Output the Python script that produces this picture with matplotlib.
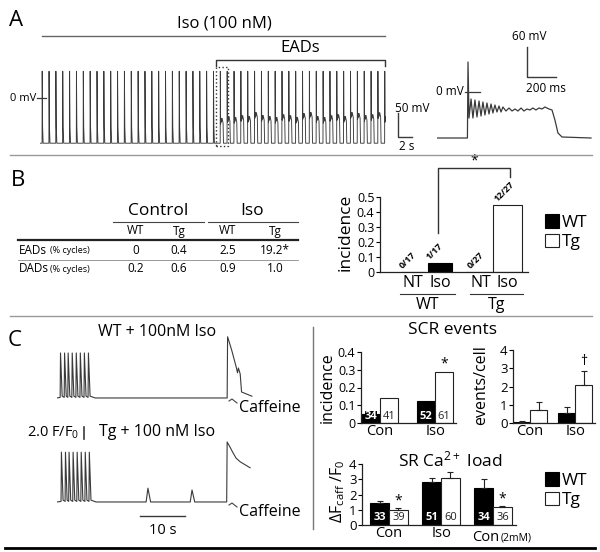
import matplotlib.pyplot as plt
import numpy as np
from matplotlib.patches import Rectangle

plt.rcParams['font.family'] = ['Open Sans', 'DejaVu Sans']
plt.rcParams['mathtext.fontset'] = 'custom'
plt.rcParams['mathtext.rm'] = 'Open Sans'
plt.rcParams['mathtext.it'] = 'Open Sans'

W, H = 600, 552

# ---------------- data ----------------
# A: paced action potentials (s, mV)
ap_times = [0, 1, 2, 3, 4, 5, 6, 7, 8, 9, 10, 11, 12, 13, 14, 15, 16, 17, 18, 19,
            20, 21, 22, 23, 24, 25, 26, 27, 28, 29, 30, 31, 32, 33, 34, 35, 36, 37,
            38, 39, 40, 41, 42, 43, 44, 45, 46, 47, 48, 49, 50]
ap_rest = -94
ap_peak = 56
ead_start = 26
ead_plateau = [-42, -38, -40, -36, -38, -30, -36, -38, -40, -34, -36, -40, -32,
               -30, -38, -40, -36, -34, -38, -30, -32, -36, -34, -30, -38]

# A inset: single AP with EADs (ms, mV)
inset_t = [0, 210, 214, 221, 235, 248, 262, 276, 290, 304, 317, 331, 345, 359, 373,
           386, 400, 414, 428, 442, 455, 476, 497, 518, 538, 559, 580, 600, 621, 642,
           662, 683, 704, 725, 745, 773, 794, 814, 835, 863, 1063]
inset_v = [-92, -92, 60, -52, -14, -52, -16, -50, -18, -48, -20, -46, -22, -44, -24,
           -42, -26, -40, -28, -40, -30, -38, -32, -38, -34, -38, -32, -38, -34, -36,
           -32, -36, -32, -34, -30, -34, -36, -56, -82, -90, -92]

# B: table
table_groups = ['Control', 'Iso']
table_cols = ['WT', 'Tg', 'WT', 'Tg']
table_rows = ['EADs', 'DADs']
table_vals = [['0', '0.4', '2.5', '19.2*'],
              ['0.2', '0.6', '0.9', '1.0']]

# B: EAD incidence
b_labels = ['NT', 'Iso', 'NT', 'Iso']
b_groups = ['WT', 'Tg']
b_counts = ['0/17', '1/17', '0/27', '12/27']
b_incidence = [0 / 17, 1 / 17, 0 / 27, 12 / 27]

# C: Ca transients (s, F/F0)
wt_pace = [0.7, 1.6, 2.4, 3.3, 4.2, 5.1, 6.0, 6.9]
wt_pace_peak = 8.5
wt_caff_t = [37.8, 37.9, 38.8, 39.8, 40.1, 40.3, 40.7, 41.0, 43.3]
wt_caff_f = [1.0, 11.2, 9.0, 6.2, 5.2, 6.0, 5.0, 2.0, 1.3]
tg_pace = [0.9, 1.8, 2.6, 3.5, 4.4, 5.3, 6.2, 7.1]
tg_pace_peak = 9.3
tg_scr_t = [20.2, 30.0]
tg_scr_peak = [3.3, 3.0]
tg_caff_t = [37.7, 37.8, 38.4, 39.1, 39.8, 40.7, 41.8, 42.9]
tg_caff_f = [1.0, 11.0, 10.2, 9.2, 8.3, 7.7, 7.2, 6.7]

# C: SCR events
scr_groups = ['Con', 'Iso']
scr_inc_wt = [0.05, 0.125]
scr_inc_tg = [0.14, 0.29]
scr_n_wt = [34, 52]
scr_n_tg = [41, 61]
scr_ev_wt = [0.05, 0.55]
scr_ev_wt_err = [0.05, 0.35]
scr_ev_tg = [0.7, 2.1]
scr_ev_tg_err = [0.45, 0.75]

# C: SR Ca load
load_groups = ['Con', 'Iso', 'Con']
load_wt = [1.45, 2.8, 2.4]
load_wt_err = [0.15, 0.25, 0.6]
load_tg = [1.0, 3.1, 1.15]
load_tg_err = [0.1, 0.35, 0.1]
load_n_wt = [33, 51, 34]
load_n_tg = [39, 60, 36]

TRACE = '#3a3a3a'

fig = plt.figure(figsize=(W / 100, H / 100), dpi=100)


def px_axes(x0, y0, x1, y1):
    return fig.add_axes([x0 / W, 1 - y1 / H, (x1 - x0) / W, (y1 - y0) / H])


def style_bar_axes(ax, size):
    for s in ['top', 'right']:
        ax.spines[s].set_visible(False)
    for s in ['left', 'bottom']:
        ax.spines[s].set_linewidth(0.9)
        ax.spines[s].set_color('#222222')
    ax.tick_params(axis='y', direction='out', length=3, width=0.8, labelsize=size, pad=1)
    ax.tick_params(axis='x', length=0, labelsize=size + 1, pad=1)
    ax.patch.set_alpha(0)


# overlay in pixel coordinates for labels and dividers
ov = fig.add_axes([0, 0, 1, 1])
ov.set_xlim(0, W)
ov.set_ylim(H, 0)
ov.axis('off')
ov.set_zorder(5)

ov.plot([10, 592], [155, 155], color='#999999', lw=1)
ov.plot([10, 592], [316, 316], color='#999999', lw=1)
ov.plot([5, 595], [548, 548], color='black', lw=2)
ov.plot([313, 313], [327, 529], color='#777777', lw=1)

for letter, x, y in [('A', 16, 21), ('B', 18, 180), ('C', 15, 340)]:
    ov.text(x, y, letter, fontsize=16, ha='center', va='center')

# ---------------- A ----------------
ax_a = px_axes(40, 65, 386, 148)
tx, vy = [-0.3], [ap_rest]
for i, t in enumerate(ap_times):
    if i < ead_start:
        tx += [t, t + 0.02, t + 0.08, t + 0.16]
        vy += [ap_rest, ap_peak, -60, ap_rest]
    else:
        p = ead_plateau[i - ead_start]
        tx += [t, t + 0.02, t + 0.06, t + 0.12, t + 0.2, t + 0.28, t + 0.36, t + 0.42, t + 0.48]
        vy += [ap_rest, ap_peak, p - 12, p, p - 8, p, p - 6, p - 10, ap_rest]
tx.append(50.4)
vy.append(ap_rest)
ax_a.plot(tx, vy, color=TRACE, lw=0.65)
ax_a.set_xlim(-0.3, 50.2)
ax_a.set_ylim(-104, 69)
ax_a.axis('off')
ax_a.plot([-0.7, 0.6], [0, 0], color=TRACE, lw=0.9, clip_on=False)
ax_a.text(-0.9, 0, '0 mV', fontsize=8, ha='right', va='center')
ax_a.add_patch(Rectangle((25.4, -100), 1.8, 165, fill=False, ls=':', lw=1,
                         ec='#333333', clip_on=False))
ax_a.plot([52, 52, 54], [-31, -81, -81], color=TRACE, lw=1, clip_on=False)
ax_a.text(54.0, -22, '50 mV', fontsize=8.5, ha='center', va='center')
ax_a.text(53.2, -101, '2 s', fontsize=8.5, ha='center', va='center')

ov.plot([42, 385], [36, 36], color='#666666', lw=1)
ov.text(224, 24, 'Iso (100 nM)', fontsize=12, ha='center', va='center')
ov.plot([216, 216, 385, 385], [66, 60, 60, 66], color='#333333', lw=1)
ov.text(300, 48, 'EADs', fontsize=12, ha='center', va='center')

ax_i = px_axes(437, 40, 592, 145)
ax_i.plot(inset_t, inset_v, color=TRACE, lw=0.9)
ax_i.set_xlim(0, 1070)
ax_i.set_ylim(-106, 104)
ax_i.axis('off')
ax_i.plot([193, 297], [0, 0], color=TRACE, lw=0.9, clip_on=False)
ax_i.text(186, 0, '0 mV', fontsize=8.5, ha='right', va='center')
ax_i.plot([621, 621, 821], [90, 30, 30], color=TRACE, lw=1, clip_on=False)
ax_i.text(638, 110, '60 mV', fontsize=8.5, ha='center', va='center')
ax_i.text(752, 6, '200 ms', fontsize=8.5, ha='center', va='center')

# ---------------- B table ----------------
col_x = [136, 179, 228, 275]
for g, cx, (l0, l1) in zip(table_groups, [158, 252], [(113, 204), (208, 298)]):
    ov.text(cx, 211, g, fontsize=12.5, ha='center', va='center')
    ov.plot([l0, l1], [222, 222], color='#444444', lw=0.8)
for c, x in zip(table_cols, col_x):
    ov.text(x, 231, c, fontsize=8.5, ha='center', va='center')
ov.plot([18, 298], [240, 240], color='#222222', lw=1.6)
ov.plot([18, 298], [259.5, 259.5], color='#888888', lw=0.6)
for r, (name, vals) in enumerate(zip(table_rows, table_vals)):
    y = 250 + r * 19
    ov.text(19, y, name, fontsize=8.5, ha='left', va='center')
    ov.text(50, y + 0.5, '(% cycles)', fontsize=6.5, ha='left', va='center')
    for v, x in zip(vals, col_x):
        ov.text(x, y, v, fontsize=8.5, ha='center', va='center')

# ---------------- B incidence ----------------
ax_b = px_axes(380, 197, 528, 272)
b_pos = [0, 1, 2.5, 3.5]
wt_b = ax_b.bar(b_pos[:2], b_incidence[:2], width=0.9, color='black',
                edgecolor='black', lw=0.8)
tg_b = ax_b.bar(b_pos[2:], b_incidence[2:], width=1.05, color='white',
                edgecolor='#222222', lw=0.8)
ax_b.set_xlim(-1.22, 4.26)
ax_b.set_ylim(0, 0.5)
ax_b.set_yticks([0, 0.1, 0.2, 0.3, 0.4, 0.5])
ax_b.set_yticklabels(['0', '0.1', '0.2', '0.3', '0.4', '0.5'])
ax_b.set_xticks(b_pos)
ax_b.set_xticklabels(b_labels)
style_bar_axes(ax_b, 9)
ax_b.tick_params(axis='x', labelsize=11.5, pad=2)
ax_b.set_ylabel('incidence', fontsize=12.5)
ax_b.yaxis.set_label_coords(-0.175, 0.53)
for p, v, c in zip(b_pos, b_incidence, b_counts):
    ax_b.text(p - 0.32, v + 0.012, c, fontsize=6.5, fontweight='bold', rotation=45,
              rotation_mode='anchor', ha='left', va='bottom')
ax_b.plot([0.93, 0.93, 3.59, 3.59], [0.26, 0.69, 0.69, 0.63], color='#333333',
          lw=1, clip_on=False)
ax_b.text(2.28, 0.74, '*', fontsize=10, ha='center', va='center')
for g, (l0, l1), cx in zip(b_groups, [(400, 455), (470, 523)], [428, 497]):
    ov.plot([l0, l1], [294, 294], color='#333333', lw=0.8)
    ov.text(cx, 305, g, fontsize=11.5, ha='center', va='center')
ax_b.legend([wt_b, tg_b], ['WT', 'Tg'], loc='upper left', frameon=False,
            bbox_to_anchor=(545 / W, 1 - 214 / H), bbox_transform=fig.transFigure,
            fontsize=12.5, handlelength=0.8, handleheight=0.85, handletextpad=0.15,
            labelspacing=0.15, borderpad=0, borderaxespad=0)

# ---------------- C traces ----------------


def ca_trace(pace, peak, scr_t, scr_peak, caff_t, caff_f):
    tt, ff = [0.0], [1.0]
    for t in pace:
        tt += [t, t + 0.08, t + 0.45]
        ff += [1.1, peak, 1.3]
    tt.append(pace[-1] + 1.6)
    ff.append(1.0)
    for t, pk in zip(scr_t, scr_peak):
        tt += [t - 0.4, t, t + 0.6]
        ff += [1.0, pk, 1.0]
    tt += caff_t
    ff += caff_f
    return tt, ff


ax_wt = px_axes(57, 330, 260, 402)
t1, f1 = ca_trace(wt_pace, wt_pace_peak, [], [], wt_caff_t, wt_caff_f)
ax_wt.plot(t1, f1, color=TRACE, lw=0.8)
ax_wt.set_xlim(0, 45.1)
ax_wt.set_ylim(0.33, 12.33)
ax_wt.axis('off')

ax_tg = px_axes(57, 436, 260, 506)
t2, f2 = ca_trace(tg_pace, tg_pace_peak, tg_scr_t, tg_scr_peak, tg_caff_t, tg_caff_f)
ax_tg.plot(t2, f2, color=TRACE, lw=0.8)
ax_tg.set_xlim(0, 45.1)
ax_tg.set_ylim(0.33, 12.0)
ax_tg.axis('off')
ax_tg.plot([6.0, 6.0], [11.5, 13.5], color=TRACE, lw=1.2, clip_on=False)
ax_tg.text(5.0, 12.5, '2.0 F/F$_0$', fontsize=10.5, ha='right', va='center')
ax_tg.plot([18.4, 28.4], [-1.33, -1.33], color=TRACE, lw=1, clip_on=False)
ax_tg.text(23.4, -3.8, '10 s', fontsize=10.5, ha='center', va='center')

ov.text(157, 332, 'WT + 100nM Iso', fontsize=11.5, ha='center', va='center')
ov.text(157, 432, 'Tg + 100 nM Iso', fontsize=11.5, ha='center', va='center')
for y0 in [399, 503]:
    ov.plot([229, 232, 237], [y0 + 2, y0, y0 + 4], color='#444444', lw=0.8)
    ov.text(239, y0 + 9, 'Caffeine', fontsize=11.5, ha='left', va='center')

# ---------------- C bars ----------------
ov.text(452, 330, 'SCR events', fontsize=12.5, ha='center', va='center')

ax_c1 = px_axes(361, 352, 456, 423)
x1 = np.arange(len(scr_groups))
w1 = 0.33
wt_c = ax_c1.bar(x1 - w1 / 2, scr_inc_wt, width=w1, color='black', edgecolor='black', lw=0.8)
tg_c = ax_c1.bar(x1 + w1 / 2, scr_inc_tg, width=w1, color='white', edgecolor='#222222', lw=0.8)
for i in range(len(scr_groups)):
    ax_c1.text(x1[i] - w1 / 2, 0.004, str(scr_n_wt[i]), color='white', fontsize=8,
               fontweight='bold', ha='center', va='bottom',
               bbox=dict(boxstyle='square,pad=0', fc='black', ec='none'))
    ax_c1.text(x1[i] + w1 / 2, 0.004, str(scr_n_tg[i]), color='#222222', fontsize=8,
               ha='center', va='bottom')
ax_c1.text(x1[1] + w1 / 2, 0.335, '*', fontsize=10, ha='center', va='center')
ax_c1.set_xlim(-0.345, 1.38)
ax_c1.set_ylim(0, 0.4)
ax_c1.set_yticks([0, 0.1, 0.2, 0.3, 0.4])
ax_c1.set_yticklabels(['0', '0.1', '0.2', '0.3', '0.4'])
ax_c1.set_xticks(x1)
ax_c1.set_xticklabels(scr_groups)
style_bar_axes(ax_c1, 9)
ax_c1.tick_params(axis='x', labelsize=10.5)
ax_c1.set_ylabel('incidence', fontsize=11.5)
ax_c1.yaxis.set_label_coords(-0.27, 0.5)

ax_c2 = px_axes(513, 350, 595, 423)
w2 = 0.38
ax_c2.bar(x1 - w2 / 2, scr_ev_wt, width=w2, color='black', edgecolor='black', lw=0.8)
ax_c2.bar(x1 + w2 / 2, scr_ev_tg, width=w2, color='white', edgecolor='#222222', lw=0.8)
ax_c2.errorbar(x1 - w2 / 2, scr_ev_wt, yerr=[[0, 0], scr_ev_wt_err], fmt='none',
               ecolor='#222222', elinewidth=0.8, capsize=2.5, capthick=0.8)
ax_c2.errorbar(x1 + w2 / 2, scr_ev_tg, yerr=[[0, 0], scr_ev_tg_err], fmt='none',
               ecolor='#222222', elinewidth=0.8, capsize=2.5, capthick=0.8)
ax_c2.text(x1[1] + w2 / 2, 3.35, '\u2020', fontsize=10, ha='center', va='center')
ax_c2.set_xlim(-0.38, 1.44)
ax_c2.set_ylim(0, 4)
ax_c2.set_yticks([0, 1, 2, 3, 4])
ax_c2.set_xticks(x1)
ax_c2.set_xticklabels(scr_groups)
style_bar_axes(ax_c2, 9.5)
ax_c2.tick_params(axis='x', labelsize=10.5)
ax_c2.set_ylabel('events/cell', fontsize=11.5)
ax_c2.yaxis.set_label_coords(-0.29, 0.52)

ov.text(450, 460, 'SR Ca$^{2+}$ load', fontsize=12.5, ha='center', va='center')
ax_c3 = px_axes(362, 464, 516, 525)
x3 = np.arange(len(load_groups))
w3 = 0.36
wt_l = ax_c3.bar(x3 - w3 / 2, load_wt, width=w3, color='black', edgecolor='black', lw=0.8)
tg_l = ax_c3.bar(x3 + w3 / 2, load_tg, width=w3, color='white', edgecolor='#222222', lw=0.8)
ax_c3.errorbar(x3 - w3 / 2, load_wt, yerr=[[0, 0, 0], load_wt_err], fmt='none',
               ecolor='#222222', elinewidth=0.8, capsize=2.5, capthick=0.8)
ax_c3.errorbar(x3 + w3 / 2, load_tg, yerr=[[0, 0, 0], load_tg_err], fmt='none',
               ecolor='#222222', elinewidth=0.8, capsize=2.5, capthick=0.8)
for i in range(len(load_groups)):
    ax_c3.text(x3[i] - w3 / 2, 0.1, str(load_n_wt[i]), color='white', fontsize=8,
               fontweight='bold', ha='center', va='bottom')
    ax_c3.text(x3[i] + w3 / 2, 0.1, str(load_n_tg[i]), color='#222222', fontsize=8,
               ha='center', va='bottom')
for i in [0, 2]:
    ax_c3.text(x3[i] + w3 / 2, load_tg[i] + load_tg_err[i] + 0.45, '*', fontsize=10,
               ha='center', va='center')
ax_c3.set_xlim(-0.52, 2.44)
ax_c3.set_ylim(0, 4)
ax_c3.set_yticks([0, 1, 2, 3, 4])
ax_c3.set_xticks(x3)
ax_c3.set_xticklabels(['Con', 'Iso', ''])
style_bar_axes(ax_c3, 9.5)
ax_c3.tick_params(axis='x', labelsize=10.5)
ax_c3.text(2.0 - 0.15, -0.35, load_groups[2], fontsize=10.5, ha='center', va='top')
ax_c3.text(2.0 + 0.45, -0.5, '(2mM)', fontsize=7.5, ha='center', va='top')
ax_c3.set_ylabel(r'$\Delta$F$_{caff}$ /F$_0$', fontsize=11.5)
ax_c3.yaxis.set_label_coords(-0.10, 0.56)
ax_c3.legend([wt_l, tg_l], ['WT', 'Tg'], loc='upper left', frameon=False,
             bbox_to_anchor=(545 / W, 1 - 472 / H), bbox_transform=fig.transFigure,
             fontsize=12.5, handlelength=0.8, handleheight=0.85, handletextpad=0.15,
             labelspacing=0.15, borderpad=0, borderaxespad=0)

fig.savefig('out.png', dpi=100)
